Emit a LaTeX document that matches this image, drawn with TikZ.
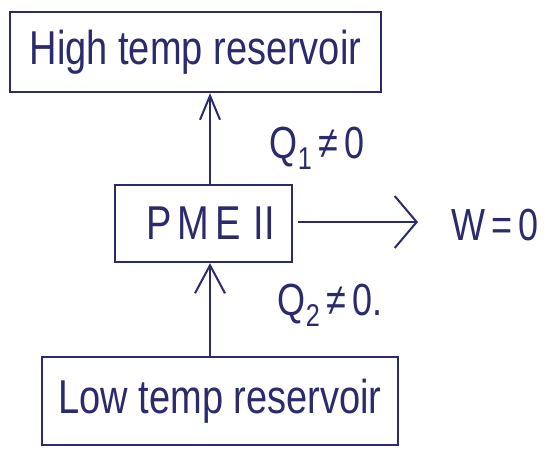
\documentclass[tikz,border=0pt]{standalone}
\usepackage{fontspec}
\setmainfont{Liberation Sans}
\usetikzlibrary{arrows.meta}
\definecolor{ink}{HTML}{2A2A6C}
\newcommand{\tallword}[1]{\scalebox{1}[1.25]{#1}}
\begin{document}
\begin{tikzpicture}[x=1pt,y=-1pt,
  box/.style={draw=ink, line width=2.3pt, inner sep=0pt, text=ink,
    font=\fontsize{38}{44}\selectfont},
  flow/.style={draw=ink, line width=2pt},
  lbl/.style={text=ink, inner sep=0pt, font=\fontsize{36}{42}\selectfont}]
\useasboundingbox (0,0) rectangle (549,450);

% reservoirs and the engine
\node[box, minimum width=371pt, minimum height=80pt] (hot) at (195.5,52)
  {\tallword{High temp reservoir}};
\node[box, minimum width=177pt, minimum height=77pt] (pme) at (203.5,223.5)
  {\hspace{14pt}\tallword{P\,M\,E\,\,II}};
\node[box, minimum width=356pt, minimum height=88pt] (cold) at (220,401)
  {\tallword{Low temp reservoir}};

% heat flows and work output
\coordinate (wend) at (418,222);
\draw[flow, -{Straight Barb[length=28pt,width=30pt,line width=2pt]}]
  (cold.north -| 210,0) -- (pme.south -| 210,0);
\draw[flow, -{Straight Barb[length=24pt,width=20pt,line width=2pt]}]
  (pme.north -| 210,0) -- (hot.south -| 210,0);
\draw[flow, -{Straight Barb[length=22pt,width=52pt,line width=2pt]}]
  ([xshift=5pt]pme.east |- wend) -- (wend);

% labels
\node[lbl] (q1) at (317,148) {\tallword{Q\textsubscript{1}\,≠\,0}};
\node[lbl] (q2) at (330,305) {\tallword{Q\textsubscript{2}\,≠\,0.}};
\node[lbl] (w) at (495,225) {\tallword{W\,=\,0}};
\end{tikzpicture}
\end{document}
